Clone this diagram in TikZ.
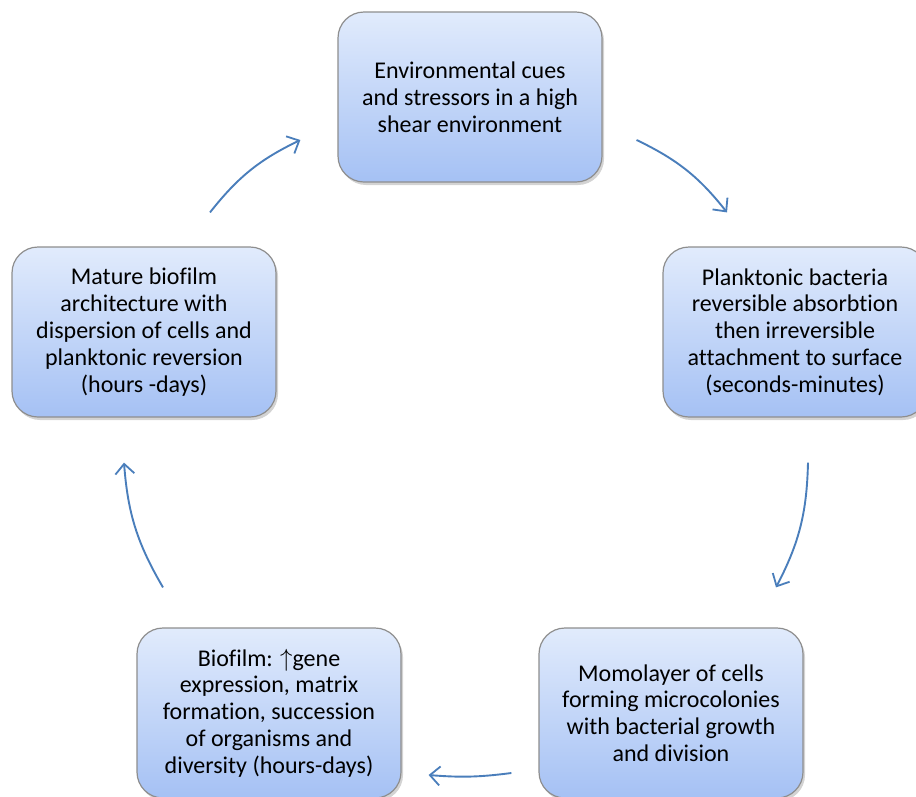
\documentclass[tikz,border=0pt]{standalone}
\usepackage{fontspec}
\setmainfont{Carlito}[Ligatures=NoCommon]
\usetikzlibrary{arrows.meta,shadows}
\definecolor{boxtop}{HTML}{E1EBFC}
\definecolor{boxbot}{HTML}{A5C1F4}
\definecolor{boxline}{HTML}{8E8E8E}
\definecolor{arrowcol}{HTML}{4A7EBB}
\begin{document}
\begin{tikzpicture}[x=1pt,y=-1pt,
	stagebox/.style={draw=boxline,line width=1.2pt,rounded corners=26pt,
		top color=boxtop,bottom color=boxbot,align=center,
		minimum width=264pt,minimum height=170pt,
		font=\fontsize{24}{26.8}\selectfont,
		drop shadow={opacity=0.35,shadow xshift=2pt,shadow yshift=-3pt}},
	cyclearrow/.style={draw=arrowcol,line width=1.9pt,
		-{Straight Barb[length=10pt,width=19pt,line width=1.8pt]}}]
	\useasboundingbox (0,0) rectangle (916,796);
	\clip (0,0) rectangle (916,796);
	\node[stagebox] (cues) at (470,97) {Environmental cues\\and stressors in a high\\shear environment};
	\node[stagebox] (attach) at (795,332) {Planktonic bacteria\\reversible absorbtion\\then irreversible\\attachment to surface\\(seconds-minutes)};
	\node[stagebox] (mono) at (671,713) {Momolayer of cells\\forming microcolonies\\with bacterial growth\\and division};
	\node[stagebox] (film) at (269,713) {Biofilm: $\uparrow$gene\\expression, matrix\\formation, succession\\of organisms and\\diversity (hours-days)};
	\node[stagebox] (mature) at (144,332) {Mature biofilm\\architecture with\\dispersion of cells and\\planktonic reversion\\(hours -days)};
	\draw[cyclearrow] ([xshift=34pt,yshift=-43pt]cues.east) to[bend left=13] ([xshift=-68pt,yshift=34pt]attach.north);
	\draw[cyclearrow] ([xshift=13pt,yshift=-45pt]attach.south) to[bend left=13] ([xshift=105pt,yshift=40pt]mono.north);
	\draw[cyclearrow] ([xshift=-27pt,yshift=-60pt]mono.west) to[bend left=6] ([xshift=27pt,yshift=-62pt]film.east);
	\draw[cyclearrow] ([xshift=-106pt,yshift=40pt]film.north) to[bend left=13] ([xshift=-20pt,yshift=-45pt]mature.south);
	\draw[cyclearrow] ([xshift=66pt,yshift=34pt]mature.north) to[bend left=13] ([xshift=-37pt,yshift=-43pt]cues.west);
\end{tikzpicture}
\end{document}
